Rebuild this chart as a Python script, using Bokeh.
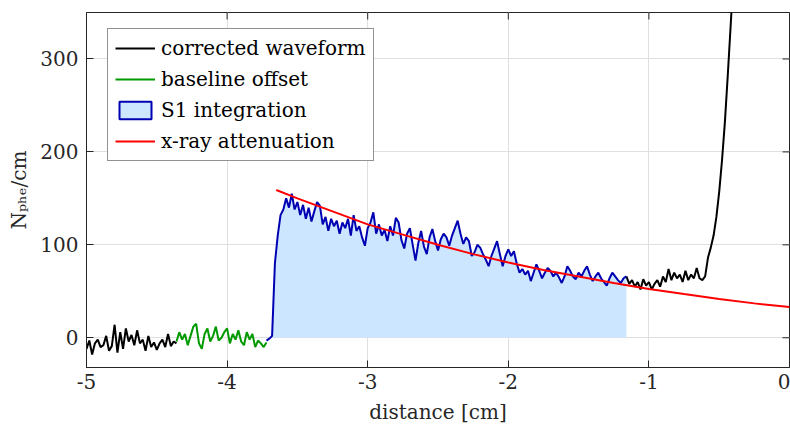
import numpy as np
from bokeh.plotting import figure
from bokeh.models import (Range1d, Legend, LegendItem, FixedTicker, CustomJSTickFormatter)
from bokeh.embed import file_html
from bokeh.resources import INLINE

FONT = "DejaVu Serif"
FS = "20px"
AX = "#262626"

# ---------------- data ----------------
step = 0.02
pre_x0 = -5.00
pre_y = [-12, -3, -18, -6, -2, -10, -8, 2, -14, -9,
         14, -16, 6, -12, 10, -4, 3, -8, 8, -6,
         -2, -14, 2, -10, -5, -13, -6, -2, -10, 4,
         -9, -4, -6]

base_x0 = -4.36
base_y = [-4, 6, -2, 4, -8, 2, 12, 15, -6, -12,
          4, 10, -4, 2, 12, -3, 0, 6, 10, -6,
          4, -2, 8, -4, -8, 6, -2, 4, -10, -3,
          -6, -10, -5]

s1_x0 = -3.72
s1_y = [-3, -1, 2, 80, 110, 132, 138, 150, 140, 155,
        138, 146, 132, 143, 128, 140, 125, 136, 146, 142,
        122, 130, 115, 128, 120, 126, 112, 124, 118, 128,
        110, 132, 115, 120, 108, 99, 118, 124, 135, 112,
        122, 110, 116, 104, 120, 110, 129, 124, 105, 96,
        112, 118, 100, 83, 102, 115, 98, 90, 108, 117,
        104, 94, 106, 112, 108, 99, 110, 118, 126, 112,
        101, 108, 104, 88, 92, 100, 97, 90, 84, 77,
        88, 96, 104, 90, 77, 88, 95, 88, 93, 80,
        70, 74, 68, 72, 61, 70, 79, 72, 64, 70,
        75, 72, 66, 70, 65, 59, 66, 77, 72, 66,
        63, 70, 66, 72, 77, 68, 61, 66, 70, 64,
        60, 56, 64, 70, 66, 62, 59, 64, 66]

post_x0 = -1.16
post_y = [66, 58, 62, 55, 60, 52, 63, 56, 60, 52,
          58, 62, 55, 66, 60, 74, 62, 70, 64, 68,
          60, 72, 62, 68, 64, 75, 64, 62, 66, 86,
          97, 110, 130, 157, 191, 231, 280, 332, 385]

att_x = [-3.65, -3.5, -3.25, -3.0, -2.75, -2.5, -2.25, -2.0,
         -1.75, -1.5, -1.25, -1.0, -0.75, -0.5, -0.25, 0.0]
att_y = [159, 150, 136, 122, 111, 100, 90, 81,
         73, 66, 59, 52.5, 47, 41.6, 37, 33]

x_ticks = [-5, -4, -3, -2, -1, 0]
y_ticks = [0, 100, 200, 300]
labels = ["corrected waveform", "baseline offset", "S1 integration", "x-ray attenuation"]
x_label = "distance [cm]"
y_label = "N\u209a\u2095\u2091/cm"


def xs(x0, ys):
    return list(np.round(x0 + step * np.arange(len(ys)), 4))


pre_x = xs(pre_x0, pre_y)
base_x = xs(base_x0, base_y)
s1_x = xs(s1_x0, s1_y)
post_x = xs(post_x0, post_y)

# ---------------- figure ----------------
xr = Range1d(-5, 0)
yr = Range1d(-32, 350)
p = figure(width=790, height=428, x_range=xr, y_range=yr,
           output_backend="svg", toolbar_location=None,
           min_border_left=86, min_border_top=12, min_border_right=1, min_border_bottom=61)
p.outline_line_color = AX
p.outline_line_width = 1
p.background_fill_color = "white"
p.border_fill_color = "white"

p.xaxis.ticker = FixedTicker(ticks=x_ticks)
p.yaxis.ticker = FixedTicker(ticks=y_ticks)
p.xaxis.formatter = CustomJSTickFormatter(code="return tick.toString()")
p.yaxis.formatter = CustomJSTickFormatter(code="return tick.toString()")
p.xgrid.ticker = FixedTicker(ticks=x_ticks)
p.ygrid.ticker = FixedTicker(ticks=y_ticks)
p.grid.grid_line_color = "#dfdfdf"
p.grid.grid_line_width = 1

for ax in [p.xaxis[0], p.yaxis[0]]:
    ax.axis_line_color = AX
    ax.major_tick_line_color = AX
    ax.major_tick_in = 7
    ax.major_tick_out = 0
    ax.minor_tick_line_color = None
    ax.major_label_text_font = FONT
    ax.major_label_text_font_size = FS
    ax.major_label_text_color = AX
    ax.axis_label_text_font = FONT
    ax.axis_label_text_font_size = FS
    ax.axis_label_text_font_style = "normal"
    ax.axis_label_text_color = AX

p.xaxis.axis_label = x_label
p.xaxis.major_label_standoff = 6
p.xaxis.axis_label_standoff = 8
p.yaxis.axis_label = y_label
p.yaxis.major_label_standoff = 8
p.yaxis.axis_label_standoff = 6

# inward ticks on the top and right edges of the box
p.ray(x=x_ticks, y=[yr.end] * len(x_ticks), length=7, length_units="screen",
      angle=-np.pi / 2, line_color=AX, line_width=1)
p.ray(x=[xr.end] * len(y_ticks), y=y_ticks, length=7, length_units="screen",
      angle=np.pi, line_color=AX, line_width=1)

# S1 fill
p.varea(x=s1_x, y1=[0] * len(s1_x), y2=[max(v, 0) for v in s1_y], fill_color="#cce6ff")
l_pre = p.line(pre_x, pre_y, line_color="black", line_width=2)
l_post = p.line(post_x, post_y, line_color="black", line_width=2)
l_base = p.line(base_x, base_y, line_color="#009900", line_width=2)
l_s1 = p.line(s1_x, s1_y, line_color="#0000b3", line_width=2)
l_att = p.line(att_x, att_y, line_color="#ff0000", line_width=2)

# legend swatch for the S1 area (not drawn in the plot itself)
swatch = p.quad(left=[s1_x[0]], right=[s1_x[-1]], bottom=[0], top=[max(s1_y)],
                fill_color="#cce6ff", line_color="#0000b3", line_width=2)
swatch.visible = False

legend = Legend(items=[LegendItem(label=labels[0], renderers=[l_pre]),
                       LegendItem(label=labels[1], renderers=[l_base]),
                       LegendItem(label=labels[2], renderers=[swatch]),
                       LegendItem(label=labels[3], renderers=[l_att])],
                location=(21, 206))
legend.label_text_font = FONT
legend.label_text_font_size = FS
legend.label_text_color = "black"
legend.glyph_width = 40
legend.glyph_height = 22
legend.label_height = 22
legend.label_width = 203
legend.label_standoff = 6
legend.spacing = 7
legend.padding = 7
legend.margin = 0
legend.border_line_color = AX
legend.border_line_width = 1
legend.background_fill_color = "white"
legend.background_fill_alpha = 1
p.add_layout(legend, "center")

open("out.html", "w").write(file_html(p, INLINE))
